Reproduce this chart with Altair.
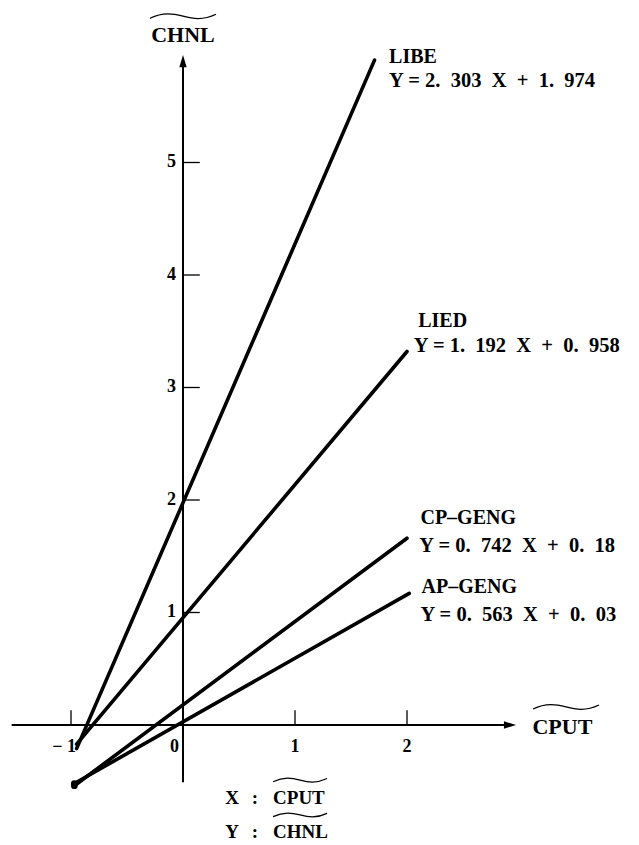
import altair as alt
import pandas as pd

# ---------------- data ----------------
series = ["LIBE", "LIED", "CP–GENG", "AP–GENG"]
equations = ["Y = 2. 303 X + 1. 974", "Y = 1. 192 X + 0. 958",
             "Y = 0. 742 X + 0. 18", "Y = 0. 563 X + 0. 03"]
x_start = [-0.95, -0.95, -0.97, -0.97]
y_start = [-0.21, -0.17, -0.54, -0.52]
x_end = [1.71, 2.00, 2.00, 2.02]
y_end = [5.91, 3.32, 1.66, 1.17]

x_ticks = [-1, 1, 2]
y_ticks = [1, 2, 3, 4, 5]
x_tick_values = [-1, 0, 1, 2]
x_tick_labels = ["− 1", "0", "1", "2"]
y_tick_labels = ["1", "2", "3", "4", "5"]

x_axis_extent = [-1.53, 2.92]
y_axis_extent = [-0.51, 5.90]
x_axis_name = "CPUT"
y_axis_name = "CHNL"

# ---------------- layout ----------------
FONT = "Liberation Serif"
XS = alt.Scale(domain=[-1.5625, 4.0], nice=False, zero=False)
YS = alt.Scale(domain=[-1.0667, 6.3733], nice=False, zero=False)
TILDE = "M -1 0.06 C -0.6 -0.13 -0.3 -0.08 0 0 C 0.3 0.08 0.6 0.13 1 -0.06"
ARROW_R = "M -1 -0.6 L 1 0 L -1 0.6 Z"
ARROW_U = "M -0.6 1 L 0 -1 L 0.6 1 Z"
EN = "\u2002"

name_x = [1.84, 2.10, 2.12, 2.13]
name_y = [5.94, 3.59, 1.84, 1.23]
eq_x = [1.84, 2.06, 2.11, 2.12]
eq_y = [5.72, 3.37, 1.59, 0.98]


def widen(eq):
    # wider gaps as in the typeset original, but "Y = " kept tight
    head, rest = eq.split(" = ", 1)
    return head + " = " + rest.replace(" ", EN)


one = pd.DataFrame({"k": [0]})


def X(v):
    return alt.XDatum(v, scale=XS, axis=None)


def Y(v):
    return alt.YDatum(v, scale=YS, axis=None)


def text_at(t, x, y, size, weight="normal", align="center", dx=0, dy=0):
    return alt.Chart(one).mark_text(
        text=t, font=FONT, fontSize=size, fontWeight=weight, align=align,
        baseline="middle", dx=dx, dy=dy, color="black"
    ).encode(x=X(x), y=Y(y))


def tilde_at(x, y, width):
    return alt.Chart(one).mark_point(
        shape=TILDE, size=width * width, filled=False, stroke="black",
        strokeWidth=1.3, opacity=1
    ).encode(x=X(x), y=Y(y))


# regression lines
rows = []
for s, a, b, c, d in zip(series, x_start, y_start, x_end, y_end):
    rows.append({"series": s, "x": a, "y": b, "o": 0})
    rows.append({"series": s, "x": c, "y": d, "o": 1})
lines_df = pd.DataFrame(rows)

lines = alt.Chart(lines_df).mark_line(
    color="black", strokeWidth=3.6, strokeCap="round"
).encode(
    x=alt.X("x:Q", scale=XS, axis=None),
    y=alt.Y("y:Q", scale=YS, axis=None),
    detail="series:N",
    order="o:Q",
)
start_dot = alt.Chart(lines_df).transform_filter(
    (alt.datum.o == 0) & (alt.datum.y < -0.4)
).mark_circle(color="black", size=45, opacity=1).encode(
    x=alt.X("x:Q", scale=XS, axis=None),
    y=alt.Y("y:Q", scale=YS, axis=None),
)

# axes
x_axis = alt.Chart(one).mark_rule(color="black", strokeWidth=2).encode(
    x=X(x_axis_extent[0]), x2=alt.X2Datum(x_axis_extent[1]), y=Y(0))
y_axis = alt.Chart(one).mark_rule(color="black", strokeWidth=2).encode(
    y=Y(y_axis_extent[0]), y2=alt.Y2Datum(y_axis_extent[1]), x=X(0))
arrow_x = alt.Chart(one).mark_point(
    shape=ARROW_R, size=150, filled=True, color="black", opacity=1
).encode(x=X(x_axis_extent[1]), y=Y(0))
arrow_y = alt.Chart(one).mark_point(
    shape=ARROW_U, size=150, filled=True, color="black", opacity=1
).encode(x=X(0), y=Y(y_axis_extent[1]))

xt = alt.Chart(pd.DataFrame({"t": x_ticks})).mark_rule(
    color="black", strokeWidth=1.3).encode(
    x=alt.X("t:Q", scale=XS, axis=None), y=Y(0), y2=alt.Y2Datum(0.13))
yt = alt.Chart(pd.DataFrame({"t": y_ticks})).mark_rule(
    color="black", strokeWidth=1.3).encode(
    y=alt.Y("t:Q", scale=YS, axis=None), x=X(0), x2=alt.X2Datum(0.15))

xl_df = pd.DataFrame({"v": x_tick_values, "lab": x_tick_labels})
xl_base = alt.Chart(xl_df).encode(
    x=alt.X("v:Q", scale=XS, axis=None), y=Y(-0.196), text="lab:N")
xl_neg = xl_base.transform_filter(alt.datum.v < 0).mark_text(
    font=FONT, fontSize=18, fontWeight="bold", align="right", dx=5,
    baseline="middle", color="black")
xl_zero = xl_base.transform_filter(alt.datum.v == 0).mark_text(
    font=FONT, fontSize=18, fontWeight="bold", align="right", dx=-4,
    baseline="middle", color="black")
xl_pos = xl_base.transform_filter(alt.datum.v > 0).mark_text(
    font=FONT, fontSize=18, fontWeight="bold", align="center",
    baseline="middle", color="black")

yl = alt.Chart(pd.DataFrame({"v": y_ticks, "lab": y_tick_labels})).mark_text(
    font=FONT, fontSize=18, fontWeight="bold", align="right", dx=-7,
    baseline="middle", color="black").encode(
    y=alt.Y("v:Q", scale=YS, axis=None), x=X(0), text="lab:N")

# line labels
lab_df = pd.DataFrame({"name": series,
                       "eq": [widen(e) for e in equations],
                       "nx": name_x, "ny": name_y, "ex": eq_x, "ey": eq_y})
names = alt.Chart(lab_df).mark_text(
    font=FONT, fontSize=20, fontWeight="bold", align="left",
    baseline="middle", color="black").encode(
    x=alt.X("nx:Q", scale=XS, axis=None), y=alt.Y("ny:Q", scale=YS, axis=None),
    text="name:N")
eqs = alt.Chart(lab_df).mark_text(
    font=FONT, fontSize=20.5, fontWeight="bold", align="left",
    baseline="middle", color="black").encode(
    x=alt.X("ex:Q", scale=XS, axis=None), y=alt.Y("ey:Q", scale=YS, axis=None),
    text="eq:N")

# axis names
annotations = [
    text_at(y_axis_name, 0, 6.13, 22, weight="bold"),
    tilde_at(0, 6.30, 66),
    text_at(x_axis_name, 3.12, -0.02, 22, weight="bold", align="left"),
    tilde_at(3.42, 0.16, 66),
    text_at("X", 0.4375, -0.645, 19, weight="bold"),
    text_at(":", 0.643, -0.645, 19, weight="bold"),
    text_at(x_axis_name, 0.804, -0.645, 19, weight="bold", align="left"),
    tilde_at(1.045, -0.49, 54),
    text_at("Y", 0.4375, -0.95, 19, weight="bold"),
    text_at(":", 0.643, -0.95, 19, weight="bold"),
    text_at(y_axis_name, 0.804, -0.95, 19, weight="bold", align="left"),
    tilde_at(1.045, -0.80, 54),
]

chart = alt.layer(
    x_axis, y_axis, arrow_x, arrow_y, xt, yt, xl_neg, xl_zero, xl_pos, yl,
    lines, start_dot, names, eqs, *annotations
).properties(
    width=623, height=837, padding=0,
    autosize=alt.AutoSizeParams(type="none"), background="white"
).configure_view(stroke=None)

chart.save("out.html", embed_options={"renderer": "svg", "actions": False})
